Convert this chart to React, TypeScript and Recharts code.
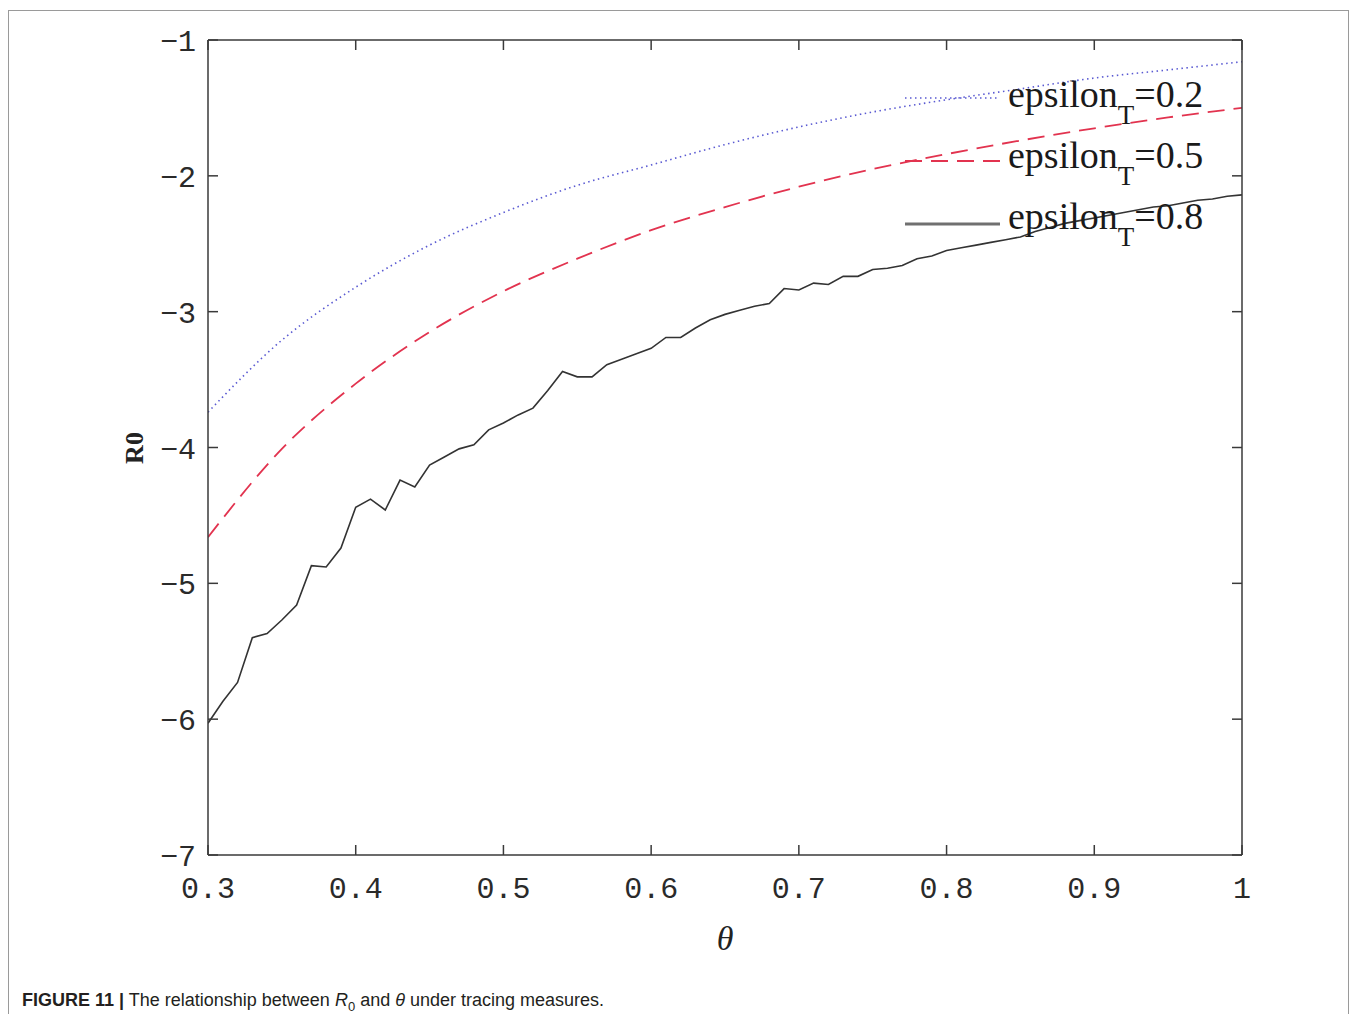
import { LineChart, Line, XAxis, YAxis, Legend } from 'recharts';

// theta grid for the two smooth curves
const thetaCoarse = [0.3, 0.35, 0.4, 0.45, 0.5, 0.55, 0.6, 0.65, 0.7, 0.75, 0.8, 0.85, 0.9, 0.95, 1.0];
const eps02 = [-3.74, -3.21, -2.82, -2.51, -2.27, -2.07, -1.92, -1.77, -1.64, -1.53, -1.44, -1.36, -1.28, -1.22, -1.16];
const eps05 = [-4.66, -4.01, -3.53, -3.15, -2.85, -2.61, -2.40, -2.23, -2.08, -1.95, -1.84, -1.74, -1.65, -1.57, -1.50];

// theta grid for the noisy (simulated) curve
const thetaFine = [
  0.30, 0.31, 0.32, 0.33, 0.34, 0.35, 0.36, 0.37, 0.38, 0.39,
  0.40, 0.41, 0.42, 0.43, 0.44, 0.45, 0.46, 0.47, 0.48, 0.49,
  0.50, 0.51, 0.52, 0.53, 0.54, 0.55, 0.56, 0.57, 0.58, 0.59,
  0.60, 0.61, 0.62, 0.63, 0.64, 0.65, 0.66, 0.67, 0.68, 0.69,
  0.70, 0.71, 0.72, 0.73, 0.74, 0.75, 0.76, 0.77, 0.78, 0.79,
  0.80, 0.81, 0.82, 0.83, 0.84, 0.85, 0.86, 0.87, 0.88, 0.89,
  0.90, 0.91, 0.92, 0.93, 0.94, 0.95, 0.96, 0.97, 0.98, 0.99, 1.00,
];
const eps08 = [
  -6.03, -5.87, -5.73, -5.40, -5.37, -5.27, -5.16, -4.87, -4.88, -4.74,
  -4.44, -4.38, -4.46, -4.24, -4.29, -4.13, -4.07, -4.01, -3.98, -3.87,
  -3.82, -3.76, -3.71, -3.58, -3.44, -3.48, -3.48, -3.39, -3.35, -3.31,
  -3.27, -3.19, -3.19, -3.12, -3.06, -3.02, -2.99, -2.96, -2.94, -2.83,
  -2.84, -2.79, -2.80, -2.74, -2.74, -2.69, -2.68, -2.66, -2.61, -2.59,
  -2.55, -2.53, -2.51, -2.49, -2.47, -2.45, -2.41, -2.38, -2.35, -2.33,
  -2.31, -2.29, -2.27, -2.25, -2.23, -2.22, -2.20, -2.18, -2.17, -2.15, -2.14,
];

const xTicks = [0.3, 0.4, 0.5, 0.6, 0.7, 0.8, 0.9, 1];
const yTicks = [-7, -6, -5, -4, -3, -2, -1];

// the noisy series sits on the top/right axes so those get drawn as the box
const series = [
  { key: 'e02', label: '0.2', theta: thetaCoarse, values: eps02, color: '#5a5ad2', dash: '1.5 3.5', width: 1.6, type: 'monotone', xId: 0, yId: 0 },
  { key: 'e05', label: '0.5', theta: thetaCoarse, values: eps05, color: '#e2334f', dash: '17 9', width: 1.8, type: 'monotone', xId: 0, yId: 0 },
  { key: 'e08', label: '0.8', theta: thetaFine, values: eps08, color: '#333333', dash: undefined, width: 1.6, type: 'linear', xId: 'top', yId: 'right' },
];

const W = 1358;
const H = 1014;
const LEFT = 208;
const RIGHT = 1242;
const TOP = 40;
const BOTTOM = 855;
const TICK = 10;
const AXIS = '#3a3a3a';
const TICK_FONT = '"Liberation Mono", "DejaVu Sans Mono", monospace';

function fmtX(v: number) {
  return v === 1 ? '1' : v.toFixed(1);
}

function BottomTick(props: any) {
  const { x, payload } = props;
  return (
    <g>
      <line x1={x} y1={BOTTOM} x2={x} y2={BOTTOM - TICK} stroke={AXIS} strokeWidth={1.5} />
      <text x={x} y={BOTTOM + 43} textAnchor="middle" fontFamily={TICK_FONT} fontSize={30} fill="#2a2a2a">
        {fmtX(payload.value)}
      </text>
    </g>
  );
}

function TopTick(props: any) {
  const { x } = props;
  return <line x1={x} y1={TOP} x2={x} y2={TOP + TICK} stroke={AXIS} strokeWidth={1.5} />;
}

function LeftTick(props: any) {
  const { y, payload } = props;
  return (
    <g>
      <line x1={LEFT} y1={y} x2={LEFT + TICK} y2={y} stroke={AXIS} strokeWidth={1.5} />
      <text x={LEFT - 12} y={y + 11} textAnchor="end" fontFamily={TICK_FONT} fontSize={30} fill="#2a2a2a">
        {'\u2212' + Math.abs(payload.value)}
      </text>
    </g>
  );
}

function RightTick(props: any) {
  const { y } = props;
  return <line x1={RIGHT} y1={y} x2={RIGHT - TICK} y2={y} stroke={AXIS} strokeWidth={1.5} />;
}

function YLabel() {
  return (
    <text
      x={134}
      y={448}
      transform="rotate(-90 134 448)"
      textAnchor="middle"
      dominantBaseline="central"
      fontFamily='"Liberation Serif", serif'
      fontWeight="bold"
      fontSize={26}
      fill="#222"
    >
      R0
    </text>
  );
}

function XLabel() {
  return (
    <text x={725} y={950} textAnchor="middle" fontFamily='"Liberation Serif", serif' fontStyle="italic" fontSize={34} fill="#222">
      θ
    </text>
  );
}

function LegendBox() {
  return (
    <svg width={340} height={200} style={{ display: 'block' }}>
      {series.map((s, i) => {
        const ly = 38 + 63 * i;
        const by = 47 + 61 * i;
        return (
          <g key={s.key}>
            <line
              x1={5}
              y1={ly}
              x2={100}
              y2={ly}
              stroke={s.key === 'e08' ? '#707070' : s.color}
              strokeWidth={s.key === 'e08' ? 3 : s.width}
              strokeDasharray={s.dash}
            />
            <text x={108} y={by} fontFamily='"Liberation Serif", serif' fontSize={38} fill="#1a1a1a">
              epsilon
              <tspan dy={17} fontSize={27}>T</tspan>
              <tspan dy={-17} fontSize={38}>{'=' + s.label}</tspan>
            </text>
          </g>
        );
      })}
    </svg>
  );
}

export default function App() {
  return (
    <div style={{ position: 'absolute', left: 0, top: 0, width: W, height: H, background: '#fff', overflow: 'hidden' }}>
      <div
        style={{
          position: 'absolute',
          left: 8,
          top: 10,
          width: 1341,
          height: 1020,
          border: '1px solid #9a9a9a',
          boxSizing: 'border-box',
        }}
      />
      <div style={{ position: 'absolute', left: 0, top: 0 }}>
        <LineChart width={W} height={H} margin={{ top: TOP - 1, right: W - RIGHT - 1, left: 0, bottom: 0 }}>
          <XAxis
            dataKey="x"
            type="number"
            domain={[0.3, 1]}
            ticks={xTicks}
            height={H - BOTTOM}
            tickSize={0}
            tickMargin={0}
            tick={<BottomTick />}
            axisLine={{ stroke: AXIS, strokeWidth: 1.5 }}
            label={<XLabel />}
            allowDataOverflow
          />
          <XAxis
            xAxisId="top"
            dataKey="x"
            orientation="top"
            type="number"
            domain={[0.3, 1]}
            ticks={xTicks}
            height={1}
            tickSize={0}
            tick={<TopTick />}
            axisLine={{ stroke: AXIS, strokeWidth: 1.5 }}
            allowDataOverflow
          />
          <YAxis
            type="number"
            domain={[-7, -1]}
            ticks={yTicks}
            width={LEFT}
            tickSize={0}
            tickMargin={0}
            tick={<LeftTick />}
            axisLine={{ stroke: AXIS, strokeWidth: 1.5 }}
            label={<YLabel />}
            allowDataOverflow
          />
          <YAxis
            yAxisId="right"
            orientation="right"
            type="number"
            domain={[-7, -1]}
            ticks={yTicks}
            width={1}
            tickSize={0}
            tick={<RightTick />}
            axisLine={{ stroke: AXIS, strokeWidth: 1.5 }}
            allowDataOverflow
          />
          <Legend
            layout="vertical"
            align="center"
            verticalAlign="middle"
            wrapperStyle={{ position: 'absolute', left: 900, top: 60, width: 340, height: 200 }}
            content={() => <LegendBox />}
          />
          {series.map(s => (
            <Line
              key={s.key}
              xAxisId={s.xId}
              yAxisId={s.yId}
              data={s.theta.map((t, i) => ({ x: t, y: s.values[i] }))}
              dataKey="y"
              name={'epsilon_T=' + s.label}
              type={s.type as any}
              stroke={s.color}
              strokeWidth={s.width}
              strokeDasharray={s.dash}
              dot={false}
              activeDot={false}
              isAnimationActive={false}
            />
          ))}
        </LineChart>
      </div>
      <div
        style={{
          position: 'absolute',
          left: 22,
          top: 990,
          fontFamily: '"Liberation Sans", Arial, sans-serif',
          fontSize: 18,
          lineHeight: '20px',
          color: '#231f20',
          whiteSpace: 'nowrap',
        }}
      >
        <b>FIGURE 11 |</b> The relationship between <i>R</i>
        <sub style={{ fontSize: 13 }}>0</sub> and <i>θ</i> under tracing measures.
      </div>
    </div>
  );
}
